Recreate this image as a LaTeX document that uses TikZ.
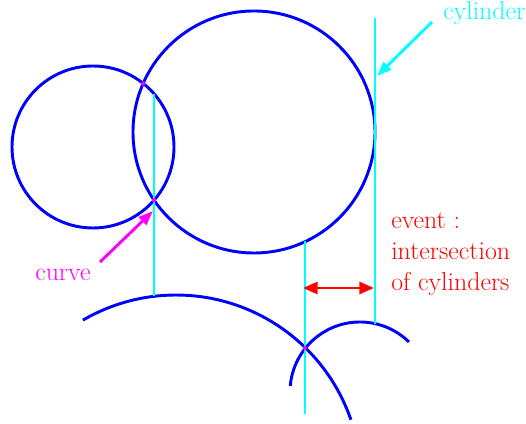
\documentclass[tikz,border=0pt]{standalone}
\usetikzlibrary{arrows.meta}
\definecolor{cy}{RGB}{0,255,255}
\definecolor{mg}{RGB}{255,0,255}
\definecolor{bl}{RGB}{0,0,255}
\definecolor{rd}{RGB}{255,0,0}
\begin{document}
\begin{tikzpicture}[x=0.75pt,y=0.75pt,
  blueline/.style={draw=bl,line width=2.2pt},
  cyanline/.style={draw=cy,line width=2.2pt},
  dot/.style={fill=mg},
  lbl/.style={inner sep=0pt,anchor=base west,font=\fontsize{19.4}{23.25}\selectfont},
  ptr/.style={line width=2.2pt,-{Triangle[length=11pt,width=8pt]}},
  dbl/.style={line width=2.2pt,{Triangle[length=11pt,width=9pt]}-{Triangle[length=11pt,width=9pt]}}]
\useasboundingbox (0,0) rectangle (526,424);
% centres
\coordinate (c1) at (93,277);
\coordinate (c2) at (254,292);
\coordinate (c3) at (176,-56);
\coordinate (c4) at (360,32);
% circles and arcs
\draw[blueline] (c1) circle[radius=60.75pt];
\draw[blueline] (c2) circle[radius=90.75pt];
\draw[blueline] (c3) ++(120.2:138.75pt) arc[start angle=120.2,end angle=19,radius=138.75pt];
\draw[blueline] (c4) ++(175:52.5pt) arc[start angle=175,end angle=45.6,radius=52.5pt];
% cylinder lines
\coordinate (l1a) at (154,330.3);
\coordinate (l1b) at (154,127.7);
\coordinate (l2a) at (375,406);
\coordinate (l2b) at (375,100.4);
\coordinate (l3a) at (305,183.4);
\coordinate (l3b) at (305,10);
\draw[cyanline] (l1a) -- (l1b);
\draw[cyanline] (l2a) -- (l2b);
\draw[cyanline] (l3a) -- (l3b);
% intersection dots
\coordinate (i1) at (143.2,340.4);
\coordinate (i2) at (154,224);
\coordinate (i3) at (305,76);
\fill[dot] (i1) circle[radius=1.6pt];
\fill[dot] (i2) circle[radius=1.6pt];
\fill[dot] (i3) circle[radius=1.6pt];
% labels
\node[lbl,text=cy] (cyl) at (443,404) {cylinder};
\node[lbl,text=mg] (curve) at (35,143) {curve};
\node[lbl,text=rd] (ev1) at (391,195) {event :};
\node[lbl,text=rd] (ev2) at (391,164) {intersection};
\node[lbl,text=rd] (ev3) at (391,133) {of cylinders};
% arrows
\coordinate (ca) at (432,402);
\coordinate (cb) at (377,348);
\coordinate (ma) at (100,162);
\coordinate (mb) at (153,213);
\coordinate (ra) at (303,136);
\coordinate (rb) at (374,136);
\draw[ptr,cy] (ca) -- (cb);
\draw[ptr,mg] (ma) -- (mb);
\draw[dbl,rd] (ra) -- (rb);
\end{tikzpicture}
\end{document}
